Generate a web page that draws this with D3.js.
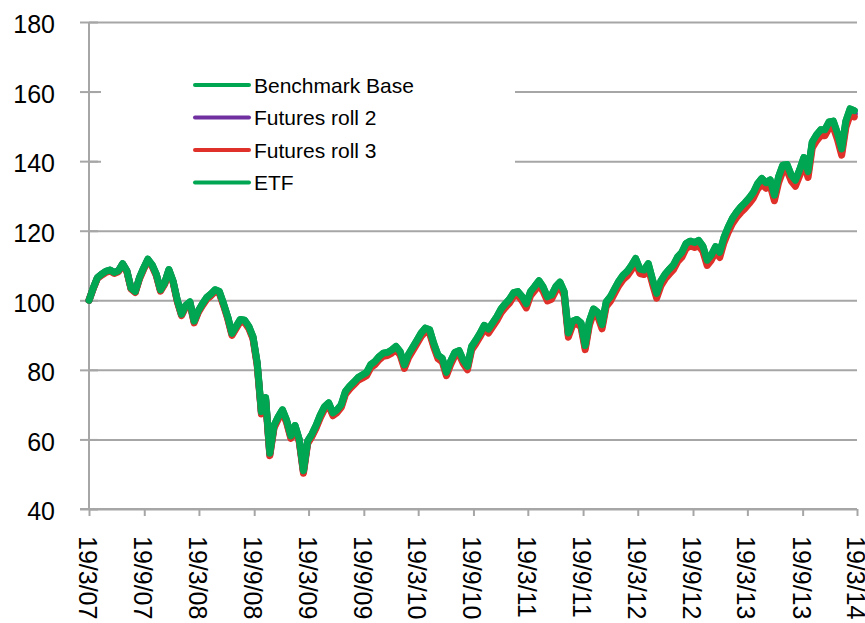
<!DOCTYPE html>
<html>
<head>
<meta charset="utf-8">
<script src="https://cdn.jsdelivr.net/npm/d3@7"></script>
<style>
  body { margin: 0; background: #fff; }
  text { font-family: "Liberation Sans", Arial, sans-serif; fill: #000; }
</style>
</head>
<body>
<script>
// fortnightly observations from 19/3/07
var startDay = "19/3/07";
var endDay = "19/3/14";
var stepDays = 14;

var tickLabels = ["19/3/07","19/9/07","19/3/08","19/9/08","19/3/09","19/9/09","19/3/10","19/9/10",
                  "19/3/11","19/9/11","19/3/12","19/9/12","19/3/13","19/9/13","19/3/14"];
var yTicks = [40, 60, 80, 100, 120, 140, 160, 180];

var seriesNames = ["Benchmark Base", "Futures roll 2", "Futures roll 3", "ETF"];
var seriesColors = ["#00a651", "#7030a0", "#e0302a", "#00a651"];

var benchmark = [
  100, 103.5, 106.5, 107.5, 108.3, 108.7, 108, 108.5, 110.5, 108.5,
  103.5, 102.5, 106.5, 109.3, 111.8, 110.2, 107.5, 103, 105, 108.8,
  105.5, 100, 96, 98.5, 99.5, 94, 97, 99, 100.8, 101.8,
  103, 102.5, 99, 95.2, 90.5, 92.5, 94.5, 94.3, 92.5, 89.5,
  82, 68, 72, 56, 64, 66.5, 68.5, 65.5, 61, 64,
  60, 51, 59.5, 61.5, 64, 67, 69.4, 70.5, 67.6, 68.5,
  70, 73.8, 75.3, 76.5, 77.8, 78.5, 79.2, 81.5, 82.4, 83.8,
  84.8, 85, 85.7, 86.7, 85.2, 81.4, 84.5, 86.5, 88.5, 90.6,
  92, 91.5, 87.5, 84.2, 83.3, 79.3, 82.5, 85, 85.5, 82.8,
  81, 86.7, 88.5, 90.5, 92.8, 91.7, 93.5, 95.3, 97.5, 99,
  100.3, 102.2, 102.5, 101, 99, 102.5, 104, 105.6, 103.8, 101,
  101.5, 103.9, 105.2, 102.5, 90.6, 94, 94.5, 93.5, 87, 94,
  97.5, 96.5, 93, 99.5, 101, 103.3, 105.5, 107.2, 108.3, 110,
  112, 109, 108.7, 110.5, 106, 102, 105.5, 107.5, 108.9, 110.2,
  112.5, 113.8, 116.3, 117, 116.6, 117.2, 115.5, 111.5, 113, 115.4,
  113.8, 118, 121, 123.5, 125.3, 126.8, 128, 129.4, 131, 133.5,
  135, 133.8, 134.6, 130.2, 135.5, 138.8, 139, 136, 134.5, 137.5,
  141, 137, 145.5, 147.5, 149, 149, 151.3, 151.5, 148, 143.5,
  151.5, 155, 154.5
];

var roll2 = [
  100, 103.4, 106.4, 107.4, 108.2, 108.6, 107.9, 108.4, 110.4, 108.4,
  103.4, 102.4, 106.3, 109.1, 111.6, 110, 107.3, 102.8, 104.8, 108.6,
  105.3, 99.8, 95.8, 98.3, 99.3, 93.8, 96.8, 98.8, 100.5, 101.5,
  102.7, 102.2, 98.7, 94.9, 90.2, 92.2, 94.2, 94, 92.2, 89.2,
  81.6, 67.6, 71.6, 55.6, 63.6, 66.1, 68.1, 65.1, 60.6, 63.6,
  59.6, 50.6, 59.1, 61.1, 63.6, 66.6, 69, 70.1, 67.2, 68.1,
  69.6, 73.4, 74.9, 76.1, 77.4, 78.1, 78.8, 81.1, 82, 83.4,
  84.3, 84.5, 85.2, 86.2, 84.7, 80.9, 84, 86, 88, 90.1,
  91.5, 91, 87, 83.7, 82.8, 78.8, 82, 84.5, 85, 82.3,
  80.5, 86.2, 88, 90, 92.3, 91.2, 93, 94.8, 97, 98.5,
  99.7, 101.6, 101.9, 100.4, 98.4, 101.9, 103.4, 105, 103.2, 100.4,
  100.9, 103.3, 104.6, 101.9, 90, 93.4, 93.9, 92.9, 86.4, 93.4,
  96.9, 95.9, 92.4, 98.9, 100.4, 102.7, 104.9, 106.6, 107.7, 109.4,
  111.4, 108.4, 108.1, 109.9, 105.4, 101.3, 104.8, 106.8, 108.2, 109.5,
  111.8, 113.1, 115.6, 116.3, 115.9, 116.5, 114.8, 110.8, 112.3, 114.7,
  113.1, 117.3, 120.3, 122.8, 124.6, 126, 127.2, 128.6, 130.2, 132.7,
  134.2, 133, 133.8, 129.4, 134.7, 138, 138.2, 135.2, 133.7, 136.7,
  140.2, 136.2, 144.7, 146.7, 148.2, 148.2, 150.4, 150.6, 147.1, 142.6,
  150.6, 154.1, 153.6
];

var roll3 = [
  100, 103.3, 106.3, 107.2, 108, 108.4, 107.7, 108.2, 110.2, 108.2,
  103.2, 102.2, 106.1, 108.9, 111.4, 109.8, 107.1, 102.6, 104.6, 108.4,
  105.1, 99.6, 95.6, 98, 99, 93.5, 96.5, 98.5, 100.3, 101.3,
  102.5, 102, 98.5, 94.6, 89.9, 91.9, 93.9, 93.7, 91.9, 88.9,
  81.3, 67.3, 71.3, 55.3, 63.3, 65.8, 67.8, 64.8, 60.3, 63.3,
  59.3, 50.3, 58.8, 60.8, 63.2, 66.2, 68.6, 69.7, 66.8, 67.7,
  69.2, 73, 74.5, 75.7, 77, 77.6, 78.3, 80.6, 81.5, 82.9,
  83.9, 84.1, 84.8, 85.8, 84.2, 80.4, 83.5, 85.5, 87.5, 89.6,
  91, 90.5, 86.5, 83.2, 82.3, 78.3, 81.5, 84, 84.5, 81.8,
  80, 85.7, 87.5, 89.5, 91.8, 90.6, 92.4, 94.2, 96.4, 97.9,
  99.2, 101.1, 101.4, 99.8, 97.8, 101.3, 102.8, 104.4, 102.6, 99.8,
  100.3, 102.7, 104, 101.3, 89.4, 92.8, 93.3, 92.3, 85.8, 92.8,
  96.3, 95.3, 91.8, 98.2, 99.7, 102, 104.2, 105.9, 107, 108.7,
  110.7, 107.7, 107.4, 109.2, 104.7, 100.6, 104.1, 106.1, 107.5, 108.8,
  111.1, 112.4, 114.9, 115.6, 115.2, 115.7, 114, 110, 111.5, 113.9,
  112.3, 116.5, 119.5, 122, 123.8, 125.2, 126.4, 127.8, 129.4, 131.9,
  133.4, 132.2, 133, 128.6, 133.8, 137.1, 137.3, 134.3, 132.8, 135.8,
  139.3, 135.3, 143.8, 145.8, 147.3, 147.3, 149.5, 149.7, 146.2, 141.7,
  149.7, 153.2, 152.7
];

var etf = [
  100, 103.5, 106.5, 107.5, 108.3, 108.7, 108, 108.5, 110.5, 108.5,
  103.5, 102.5, 106.5, 109.3, 111.8, 110.2, 107.5, 103, 105, 108.8,
  105.5, 100, 96, 98.5, 99.5, 94, 97, 99, 100.8, 101.8,
  103, 102.5, 99, 95.2, 90.5, 92.5, 94.5, 94.3, 92.5, 89.5,
  82, 68, 72, 56, 64, 66.5, 68.5, 65.5, 61, 64,
  60, 51, 59.5, 61.5, 64, 67, 69.4, 70.5, 67.6, 68.5,
  70, 73.8, 75.3, 76.5, 77.8, 78.5, 79.2, 81.5, 82.4, 83.8,
  84.8, 85, 85.7, 86.7, 85.2, 81.4, 84.5, 86.5, 88.5, 90.6,
  92, 91.5, 87.5, 84.2, 83.3, 79.3, 82.5, 85, 85.5, 82.8,
  81, 86.7, 88.5, 90.5, 92.8, 91.7, 93.5, 95.3, 97.5, 99,
  100.3, 102.2, 102.5, 101, 99, 102.5, 104, 105.6, 103.8, 101,
  101.5, 103.9, 105.2, 102.5, 90.6, 94, 94.5, 93.5, 87, 94,
  97.5, 96.5, 93, 99.5, 101, 103.3, 105.5, 107.2, 108.3, 110,
  112, 109, 108.7, 110.5, 106, 102, 105.5, 107.5, 108.9, 110.2,
  112.5, 113.8, 116.3, 117, 116.6, 117.2, 115.5, 111.5, 113, 115.4,
  113.8, 118, 121, 123.5, 125.3, 126.8, 128, 129.4, 131, 133.5,
  135, 133.8, 134.6, 130.2, 135.5, 138.8, 139, 136, 134.5, 137.5,
  141, 137, 145.5, 147.5, 149, 149, 151.3, 151.5, 148, 143.5,
  151.5, 155, 154.5
];

var svg = d3.select("body")
    .append("svg")
    .attr("width", 865)
    .attr("height", 623)
    .style("display", "block");

var margin = {top: 22, right: 8, bottom: 114, left: 89};
var width = 865 - margin.left - margin.right;
var height = 623 - margin.top - margin.bottom;
var g = svg.append("g").attr("transform", "translate(" + margin.left + "," + margin.top + ")");

var parseDay = d3.timeParse("%d/%m/%y");
var start = parseDay(startDay);

var x = d3.scaleTime()
    .domain([start, parseDay(endDay)])
    .range([0, width]);

var y = d3.scaleLinear()
    .domain([40, 180])
    .range([height, 0]);

var gridColor = "#a6a6a6";

// gridlines
g.append("g")
    .call(d3.axisLeft(y).tickValues(yTicks).tickSize(-width).tickFormat(""))
    .call(function(a) {
        a.select(".domain").remove();
        a.selectAll(".tick line").attr("stroke", gridColor).attr("stroke-width", 2);
    });

// y axis
var yAxis = g.append("g")
    .call(d3.axisLeft(y).tickValues(yTicks).tickSize(9).tickPadding(25));
yAxis.select(".domain").remove();
yAxis.selectAll(".tick line").attr("x1", 9).attr("x2", -9).attr("stroke", gridColor).attr("stroke-width", 2);
yAxis.selectAll(".tick text").style("font-size", "25px").attr("dy", "0.43em");
yAxis.append("line")
    .attr("x1", 0).attr("x2", 0).attr("y1", 0).attr("y2", height)
    .attr("stroke", gridColor).attr("stroke-width", 2);

// x axis, last label runs off the right edge as in the original
var xAxis = g.append("g")
    .attr("transform", "translate(0," + height + ")")
    .call(d3.axisBottom(x)
        .tickValues(tickLabels.map(parseDay))
        .tickSize(7)
        .tickFormat(function(d, i) { return tickLabels[i]; }));
xAxis.select(".domain").remove();
xAxis.selectAll(".tick line").attr("stroke", gridColor).attr("stroke-width", 2);
xAxis.append("line")
    .attr("x1", -9).attr("x2", width).attr("y1", 0).attr("y2", 0)
    .attr("stroke", gridColor).attr("stroke-width", 2);
xAxis.selectAll(".tick text")
    .attr("transform", "rotate(90)")
    .attr("x", 27)
    .attr("y", 0)
    .attr("dy", "0.42em")
    .style("text-anchor", "start")
    .style("font-size", "25px");

// legend box
var legend = svg.append("g");
legend.append("rect")
    .attr("x", 101).attr("y", 62)
    .attr("width", 414).attr("height", 140)
    .attr("fill", "#fff");

var allSeries = [benchmark, roll2, roll3, etf];

var line = d3.line()
    .x(function(d, i) { return x(d3.timeDay.offset(start, i * stepDays)); })
    .y(function(d) { return y(d); });

g.selectAll(".series")
    .data(allSeries)
    .enter()
    .append("path")
    .attr("class", "series")
    .attr("d", line)
    .attr("fill", "none")
    .attr("stroke", function(d, i) { return seriesColors[i]; })
    .attr("stroke-width", 7)
    .attr("stroke-linejoin", "round")
    .attr("stroke-linecap", "round");

var items = legend.selectAll(".item")
    .data(seriesNames)
    .enter()
    .append("g")
    .attr("class", "item")
    .attr("transform", function(d, i) { return "translate(195," + (85 + i * 32.5) + ")"; });

items.append("line")
    .attr("x1", 0).attr("x2", 54)
    .attr("stroke", function(d, i) { return seriesColors[i]; })
    .attr("stroke-width", 4)
    .attr("stroke-linecap", "round");

items.append("text")
    .attr("x", 59)
    .attr("dy", "0.36em")
    .style("font-size", "21px")
    .text(function(d) { return d; });
</script>
</body>
</html>
